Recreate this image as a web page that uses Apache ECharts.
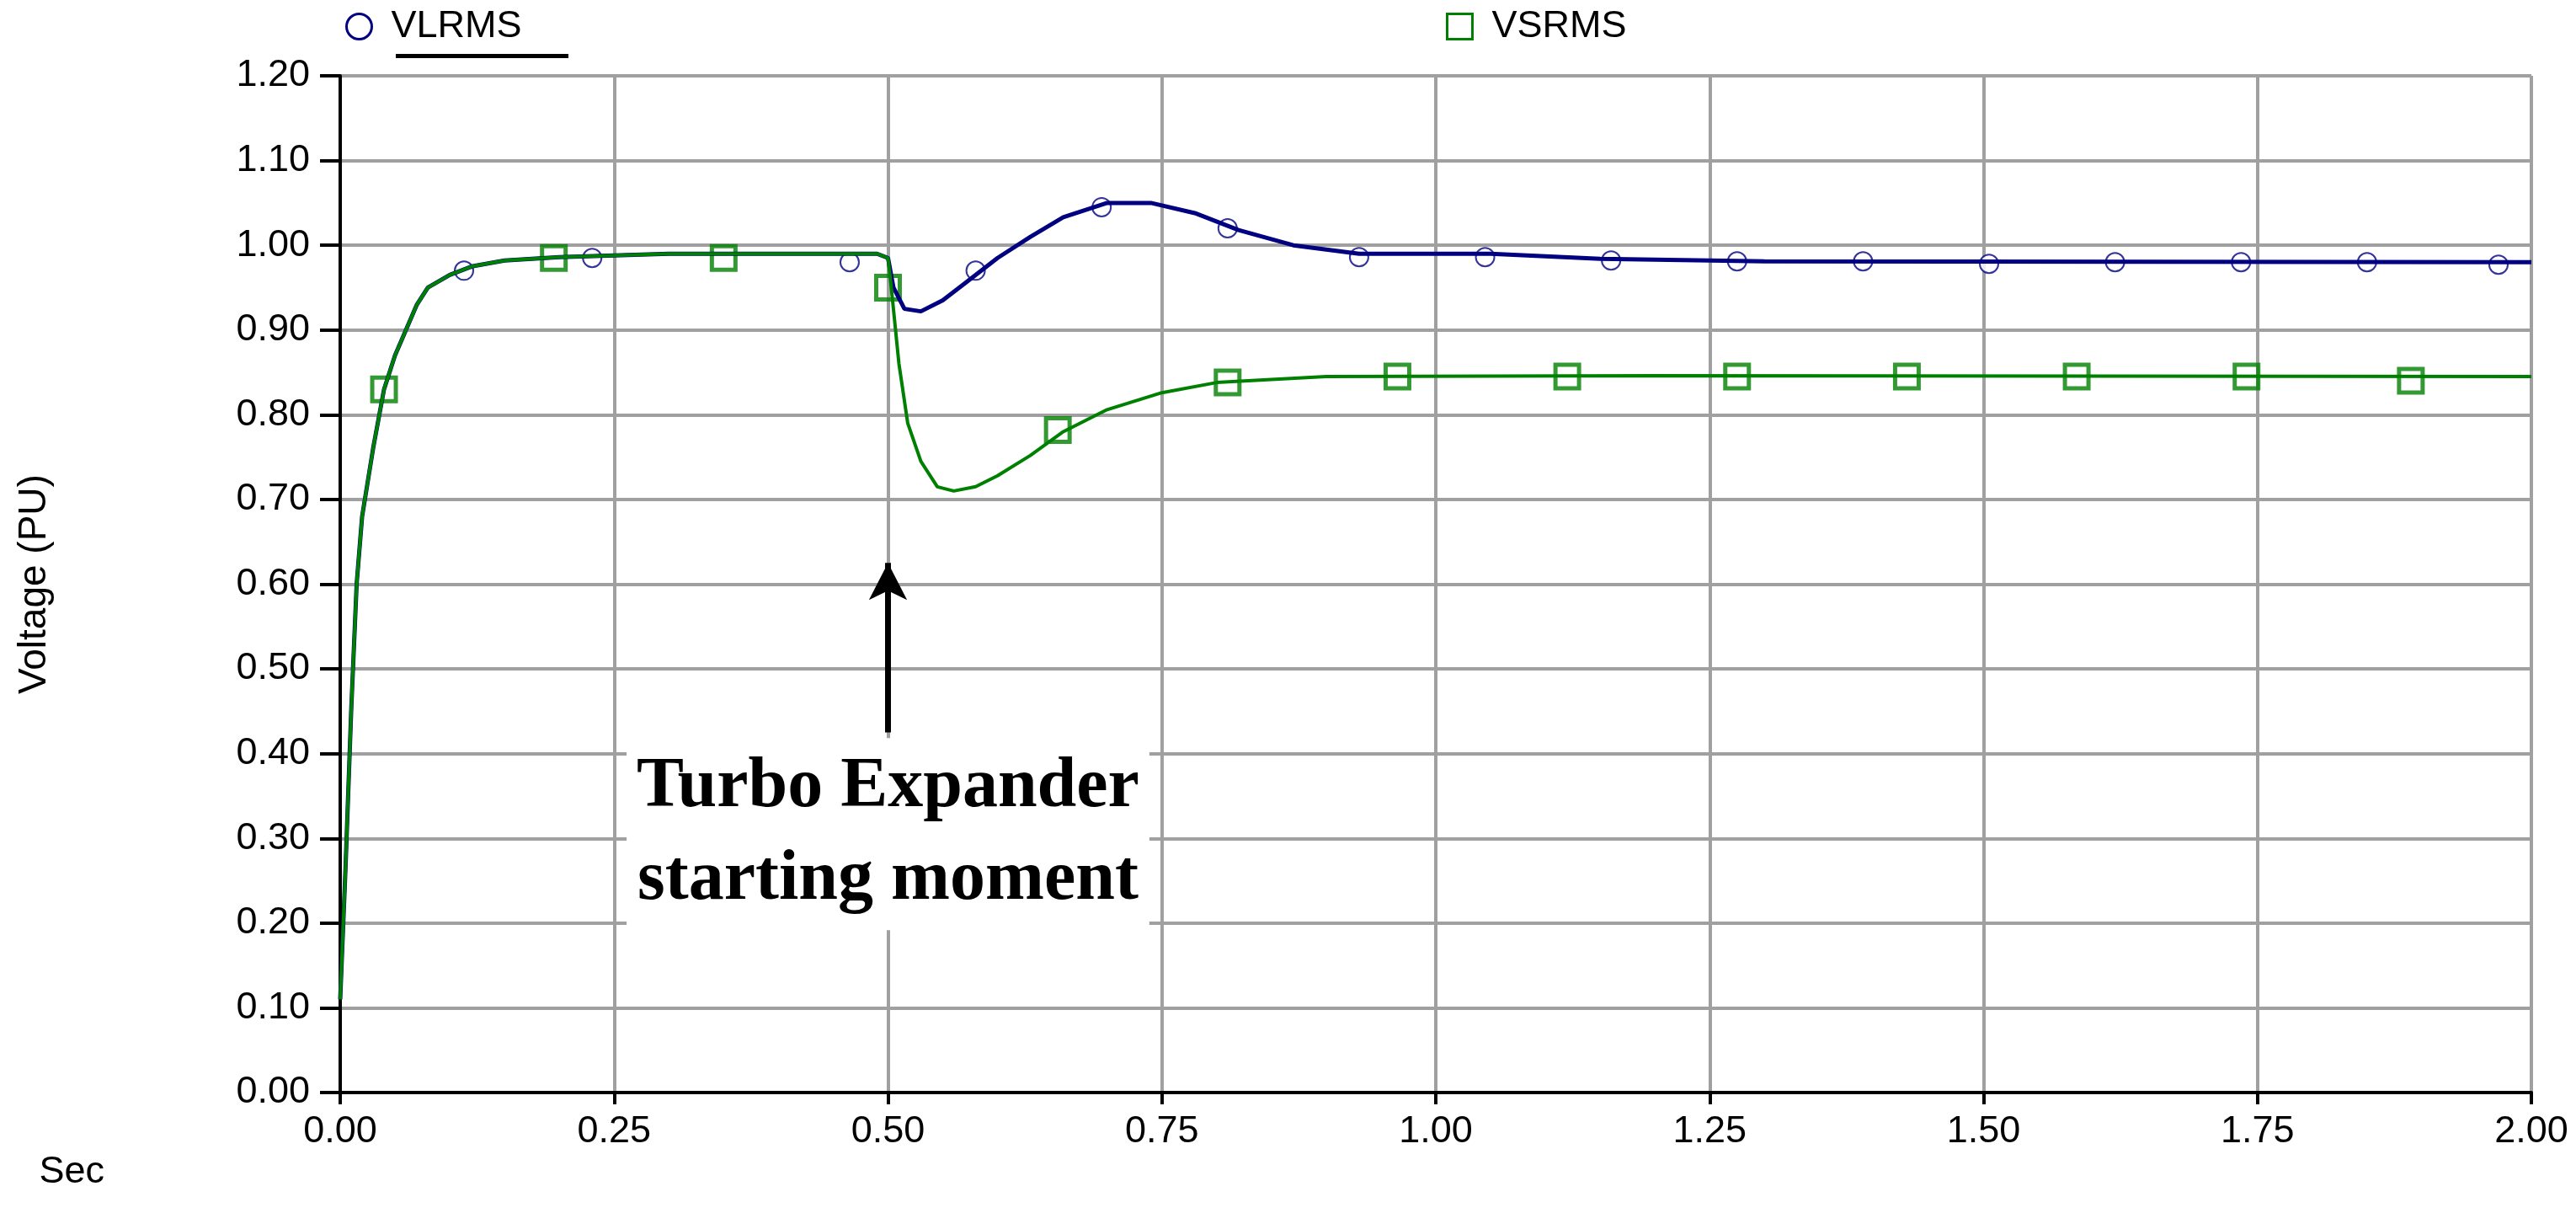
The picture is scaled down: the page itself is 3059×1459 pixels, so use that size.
<!DOCTYPE html>
<html>
<head>
<meta charset="utf-8">
<script src="https://cdn.jsdelivr.net/npm/echarts@6/dist/echarts.min.js"></script>
<style>html,body{margin:0;padding:0;background:#fff}#chart{width:3059px;height:1459px}</style>
</head>
<body>
<div id="chart"></div>
<script>
// waveform samples [time, pu]
var vsrms = [[0,0.11],[0.005,0.27],[0.01,0.45],[0.015,0.6],[0.02,0.68],[0.03,0.76],[0.04,0.83],[0.05,0.87],[0.06,0.9],[0.07,0.93],[0.08,0.95],[0.1,0.965],[0.12,0.975],[0.15,0.982],[0.2,0.986],[0.3,0.99],[0.49,0.99],[0.5,0.985],[0.503,0.95],[0.51,0.86],[0.518,0.79],[0.53,0.745],[0.545,0.715],[0.56,0.71],[0.58,0.715],[0.6,0.728],[0.63,0.752],[0.66,0.78],[0.7,0.806],[0.75,0.826],[0.8,0.838],[0.9,0.845],[1.2,0.846],[2.0,0.845]];
var vlrms = [[0,0.11],[0.005,0.27],[0.01,0.45],[0.015,0.6],[0.02,0.68],[0.03,0.76],[0.04,0.83],[0.05,0.87],[0.06,0.9],[0.07,0.93],[0.08,0.95],[0.1,0.965],[0.12,0.975],[0.15,0.982],[0.2,0.986],[0.3,0.99],[0.49,0.99],[0.5,0.985],[0.505,0.95],[0.515,0.925],[0.53,0.922],[0.55,0.935],[0.57,0.955],[0.6,0.985],[0.63,1.01],[0.66,1.033],[0.7,1.05],[0.74,1.05],[0.78,1.038],[0.82,1.018],[0.87,1.0],[0.93,0.99],[1.05,0.99],[1.15,0.984],[1.3,0.981],[2.0,0.98]];
var vlMarks = [[0.113,0.97],[0.23,0.985],[0.465,0.98],[0.58,0.97],[0.695,1.045],[0.81,1.02],[0.93,0.986],[1.045,0.986],[1.16,0.982],[1.275,0.981],[1.39,0.981],[1.505,0.978],[1.62,0.98],[1.735,0.98],[1.85,0.98],[1.97,0.977]];
var vsMarks = [[0.04,0.83],[0.195,0.985],[0.35,0.985],[0.5,0.95],[0.655,0.782],[0.81,0.838],[0.965,0.845],[1.12,0.845],[1.275,0.845],[1.43,0.845],[1.585,0.845],[1.74,0.845],[1.89,0.84]];
var BLUE = '#000080', GREEN = '#008000';

var chart = echarts.init(document.getElementById('chart'), null, {renderer: 'canvas'});
var txt = {fontFamily: 'Liberation Sans, Arial', fontSize: 45, color: '#000'};
chart.setOption({
  animation: false,
  grid: {left: 404, right: 53, top: 90, bottom: 162},
  legend: [
    {left: 405, top: 4, itemWidth: 30, itemHeight: 30, textStyle: Object.assign({padding: [0, 0, 0, 18],
      rich: {}}, txt), formatter: '{u|{name}}', data: [{name: 'VLRMS', icon: 'circle', itemStyle: {color: '#fff', borderColor: BLUE, borderWidth: 3}}]},
    {left: 1712, top: 4, itemWidth: 30, itemHeight: 30, textStyle: Object.assign({padding: [0, 0, 0, 18]}, txt), data: [{name: 'VSRMS', icon: 'rect', itemStyle: {color: '#fff', borderColor: GREEN, borderWidth: 3}}]}
  ],
  graphic: [{type: 'rect', left: 470, top: 64, shape: {width: 205, height: 5}, style: {fill: '#000'}}],
  xAxis: {type: 'value', min: 0, max: 2, interval: 0.25, name: 'Sec', nameLocation: 'start', nameGap: 0,
    nameTextStyle: {fontFamily: 'Liberation Sans, Arial', fontSize: 45, color: '#000', padding: [72, 280, 0, 0], verticalAlign: 'top'},
    axisLine: {lineStyle: {color: '#000', width: 4}}, axisTick: {length: 14, lineStyle: {width: 4, color: '#000'}},
    axisLabel: Object.assign({margin: 24, formatter: function (v) { return v.toFixed(2); }}, txt),
    splitLine: {show: true, lineStyle: {color: '#a0a0a0', width: 4}}},
  yAxis: {type: 'value', min: 0, max: 1.2, interval: 0.1, name: 'Voltage (PU)', nameLocation: 'middle', nameGap: 340,
    nameTextStyle: {fontFamily: 'Liberation Sans, Arial', fontSize: 46, color: '#000'},
    axisLine: {show: true, lineStyle: {color: '#000', width: 4}}, axisTick: {show: true, length: 24, lineStyle: {width: 4, color: '#000'}},
    axisLabel: Object.assign({margin: 36, formatter: function (v) { return v.toFixed(2); }}, txt),
    splitLine: {show: true, lineStyle: {color: '#a0a0a0', width: 4}}},
  series: [
    {name: 'VLRMS', type: 'line', data: vlrms, showSymbol: false, lineStyle: {color: BLUE, width: 5}, itemStyle: {color: BLUE}},
    {name: 'VSRMS', type: 'line', data: vsrms, showSymbol: false, lineStyle: {color: GREEN, width: 4}, itemStyle: {color: GREEN},
      markLine: {silent: true, symbol: ['none', 'arrow'], symbolSize: [34, 44], label: {show: false},
        lineStyle: {color: '#000', width: 7, type: 'solid'}, data: [[{coord: [0.5, 0.425]}, {coord: [0.5, 0.625]}]]},
      markPoint: {silent: true, symbol: 'rect', symbolSize: 1, itemStyle: {color: 'transparent'},
        data: [{coord: [0.5, 0.305], label: {show: true, position: 'inside', formatter: 'Turbo Expander\nstarting moment',
          fontFamily: 'Liberation Serif, Times New Roman', fontWeight: 'bold', fontSize: 84, lineHeight: 110, color: '#000',
          backgroundColor: '#fff', padding: [4, 12], align: 'center'}}]}},
    {name: 'VLRMS', type: 'scatter', data: vlMarks, symbol: 'emptyCircle', symbolSize: 22, itemStyle: {color: BLUE, borderWidth: 4}},
    {name: 'VSRMS', type: 'scatter', data: vsMarks, symbol: 'rect', symbolSize: 28, itemStyle: {color: 'transparent', borderColor: GREEN, borderWidth: 5}}
  ]
});
</script>
</body>
</html>
